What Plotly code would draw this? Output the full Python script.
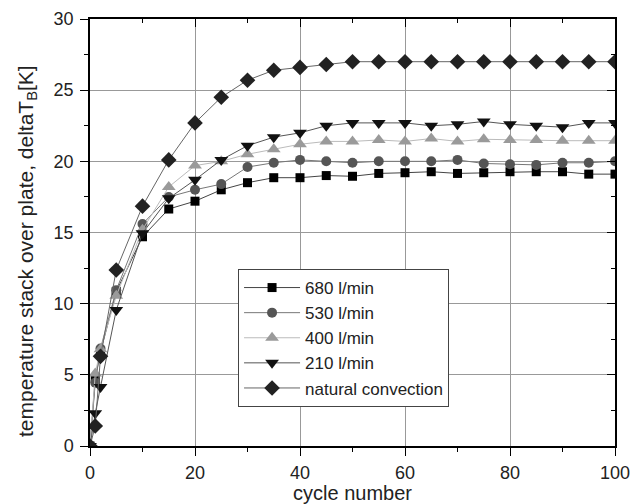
import plotly.graph_objects as go

cycles = [0, 1, 2, 5, 10, 15, 20, 25, 30, 35, 40, 45, 50, 55, 60, 65, 70, 75, 80, 85, 90, 95, 100]

flow_680 = [0.0, 4.75, 6.6, 10.85, 14.7, 16.65, 17.2, 18.0, 18.5, 18.85, 18.85, 19.0, 18.95, 19.15,
            19.2, 19.27, 19.15, 19.2, 19.27, 19.27, 19.27, 19.1, 19.1]
flow_530 = [0.0, 4.45, 6.85, 10.95, 15.6, 17.5, 18.0, 18.4, 19.6, 19.9, 20.1, 20.0, 19.9, 20.0,
            20.0, 20.0, 20.1, 19.85, 19.8, 19.75, 19.9, 19.9, 20.0]
flow_400 = [0.0, 5.1, 6.8, 10.55, 15.2, 18.2, 19.7, 20.0, 20.5, 20.85, 21.2, 21.4, 21.4, 21.5,
            21.4, 21.6, 21.4, 21.55, 21.5, 21.5, 21.45, 21.45, 21.45]
flow_210 = [0.0, 2.3, 4.15, 9.55, 14.95, 17.4, 18.7, 20.1, 21.1, 21.7, 22.0, 22.5, 22.7, 22.7,
            22.7, 22.5, 22.6, 22.8, 22.6, 22.5, 22.4, 22.7, 22.7]
natural = [0.0, 1.4, 6.3, 12.37, 16.85, 20.1, 22.7, 24.5, 25.7, 26.4, 26.6, 26.8, 27.0, 27.0,
           27.0, 27.0, 27.0, 27.0, 27.0, 27.0, 27.0, 27.0, 27.0]

series_names = ["680 l/min", "530 l/min", "400 l/min", "210 l/min", "natural convection"]
series_values = [flow_680, flow_530, flow_400, flow_210, natural]
series_symbols = ["square", "circle", "triangle-up", "triangle-down", "diamond"]
series_sizes = [9, 10, 12, 12, 12]
marker_colors = ["#000000", "#555555", "#9a9a9a", "#111111", "#222222"]
line_colors = ["#444444", "#777777", "#bbbbbb", "#555555", "#666666"]

x_ticks = [0, 20, 40, 60, 80, 100]
y_ticks = [0, 5, 10, 15, 20, 25, 30]

x_title = "cycle number"
y_title = "temperature stack over plate, deltaT<sub>B</sub>[K]"

font_family = "Liberation Sans, Arial, sans-serif"
text_color = "#222222"

fig = go.Figure()
for name, vals, sym, size, mcol, lcol in zip(series_names, series_values, series_symbols,
                                             series_sizes, marker_colors, line_colors):
    fig.add_trace(go.Scatter(
        x=cycles, y=vals, name=name, mode="lines+markers",
        line=dict(color=lcol, width=1),
        marker=dict(symbol=sym, size=size, color=mcol, line=dict(width=0)),
    ))

# invisible trace so the mirrored (inside-tick) top/right axes are drawn
fig.add_trace(go.Scatter(x=[None], y=[None], xaxis="x2", yaxis="y2",
                         showlegend=False, hoverinfo="skip"))

axis_common = dict(
    showline=True, linecolor="#000000", linewidth=1.5,
    tickcolor="#000000", tickwidth=1.2, ticklen=8,
    zeroline=False, automargin=False,
)

fig.update_layout(
    # page body adds an 8px offset, so the figure is 8px smaller and shifted margins
    width=634, height=496,
    margin=dict(l=82, r=27, t=11, b=58),
    paper_bgcolor="white", plot_bgcolor="white",
    font=dict(family=font_family, size=18, color=text_color),
    xaxis=dict(
        range=[0, 100], tickvals=x_ticks, ticks="outside", ticklabelstandoff=2,
        showgrid=True, gridcolor="#999999", gridwidth=1,
        minor=dict(dtick=10, tick0=0, ticks="outside", ticklen=4, tickcolor="#000000", showgrid=False),
        title=dict(text=x_title, font=dict(size=20), standoff=5),
        **axis_common,
    ),
    yaxis=dict(
        range=[0, 30], tickvals=y_ticks, ticks="outside", ticklabelstandoff=3,
        showgrid=True, gridcolor="#999999", gridwidth=1,
        minor=dict(dtick=2.5, tick0=0, ticks="outside", ticklen=4, tickcolor="#000000", showgrid=False),
        **axis_common,
    ),
    xaxis2=dict(
        overlaying="x", side="top", range=[0, 100], tickvals=x_ticks, ticks="inside",
        showticklabels=False, showgrid=False,
        minor=dict(dtick=10, tick0=0, ticks="inside", ticklen=4, tickcolor="#000000", showgrid=False),
        **axis_common,
    ),
    yaxis2=dict(
        overlaying="y", side="right", range=[0, 30], tickvals=y_ticks, ticks="inside",
        showticklabels=False, showgrid=False,
        minor=dict(dtick=2.5, tick0=0, ticks="inside", ticklen=4, tickcolor="#000000", showgrid=False),
        **axis_common,
    ),
    legend=dict(
        x=0.282, y=0.4145, xanchor="left", yanchor="top",
        bgcolor="white", bordercolor="#444444", borderwidth=1,
        font=dict(size=17, color=text_color),
        itemwidth=56,
        tracegroupgap=0,
    ),
    showlegend=True,
    annotations=[dict(
        text=y_title, textangle=-90, showarrow=False,
        xref="paper", yref="paper", x=-0.12, y=0.4567,
        xanchor="center", yanchor="middle",
        font=dict(size=21, color=text_color),
    )],
)

fig.write_html("out.html")
